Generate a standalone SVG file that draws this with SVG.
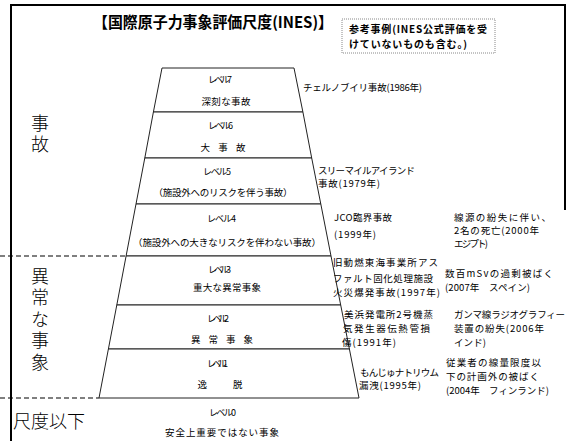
<svg xmlns="http://www.w3.org/2000/svg" width="569" height="441" viewBox="0 0 569 441">
<style>
  text { font-family: "Noto Sans CJK JP", "Noto Sans", sans-serif; fill: #000; }
  .band { fill: #fff; stroke: #222; stroke-width: 1; }
  .lbl { font-size: 9px; }
  .desc { font-size: 9.5px; text-anchor: middle; }
  .ex { font-size: 9.5px; }
  .big { font-size: 18px; font-weight: 300; }
  .vert { writing-mode: vertical-rl; letter-spacing: 3.5px; }
  .sep { stroke: #000; stroke-width: 1.2; stroke-dasharray: 5 3; fill: none; }
  .frame { stroke: #000; stroke-width: 2; fill: none; }
</style>
<rect width="569" height="441" fill="#fff"/>
<g id="frame">
  <path class="frame" d="M11,441 V5 H565 V210"/>
</g>
<g id="title">
  <text x="93" y="28" font-size="15.5" font-weight="bold" textLength="240" lengthAdjust="spacingAndGlyphs">【国際原子力事象評価尺度(INES)】</text>
</g>
<g id="note">
  <rect x="342" y="19" width="153" height="34" fill="#fff" stroke="#888" stroke-width="1" stroke-dasharray="1 1"/>
  <text x="349" y="33" font-size="10" font-weight="bold" textLength="138">参考事例(INES公式評価を受</text>
  <text x="349" y="48" font-size="10" font-weight="bold" textLength="118">けていないものも含む。)</text>
</g>
<g id="separators">
  <line class="sep" x1="0" y1="256" x2="126" y2="256"/>
  <line class="sep" x1="0" y1="398" x2="99" y2="398"/>
</g>
<g id="category-labels">
  <text class="big vert" x="40" y="114">事故</text>
  <text class="big vert" x="40" y="267">異常な事象</text>
  <text class="big" x="13" y="428" textLength="72">尺度以下</text>
</g>
<g id="level7">
  <polygon class="band" points="162,68 294,68 302.9,112 153.4,112"/>
  <text class="lbl" x="208" y="83" textLength="24">レベル7</text>
  <text class="desc" x="226" y="105" textLength="49">深刻な事故</text>
</g>
<g id="level6">
  <polygon class="band" points="153.4,112 302.9,112 311.7,158 144.8,158"/>
  <text class="lbl" x="208" y="129" textLength="25">レベル6</text>
  <text class="desc" x="223" y="151" textLength="45">大 事 故</text>
</g>
<g id="level5">
  <polygon class="band" points="144.8,158 311.7,158 320.8,204 136,204"/>
  <text class="lbl" x="203" y="175" textLength="28">レベル5</text>
  <text class="desc" x="223" y="196" textLength="139">（施設外へのリスクを伴う事故）</text>
</g>
<g id="level4">
  <polygon class="band" points="136,204 320.8,204 331,256 126.1,256"/>
  <text class="lbl" x="207" y="222" textLength="29">レベル4</text>
  <text class="desc" x="227" y="246" textLength="188">（施設外への大きなリスクを伴わない事故）</text>
</g>
<g id="level3">
  <polygon class="band" points="126.1,256 331,256 340.7,305 116.8,305"/>
  <text class="lbl" x="208" y="273" textLength="23">レベル3</text>
  <text class="desc" x="227" y="291" textLength="68">重大な異常事象</text>
</g>
<g id="level2">
  <polygon class="band" points="116.8,305 340.7,305 349.4,349 108.4,349"/>
  <text class="lbl" x="207" y="322" textLength="22">レベル2</text>
  <text class="desc" x="222" y="343" textLength="62">異 常 事 象</text>
</g>
<g id="level1">
  <polygon class="band" points="108.4,349 349.4,349 359,398 99,398"/>
  <text class="lbl" x="207" y="367" textLength="21">レベル1</text>
  <text class="desc" x="220" y="388" textLength="45">逸　　脱</text>
</g>
<g id="level0">
  <text class="lbl" x="209" y="416" textLength="27">レベル0</text>
  <text class="desc" x="222" y="436" textLength="114">安全上重要ではない事象</text>
</g>
<g id="examples">
  <text class="ex" x="303" y="91" textLength="119">チェルノブイリ事故(1986年)</text>
  <text class="ex" x="318" y="174" textLength="97">スリーマイルアイランド</text>
  <text class="ex" x="318" y="187" textLength="62">事故(1979年)</text>
  <text class="ex" x="334" y="221" textLength="58">JCO臨界事故</text>
  <text class="ex" x="334" y="238" textLength="42">(1999年)</text>
  <text class="ex" x="454" y="221" textLength="97">線源の紛失に伴い、</text>
  <text class="ex" x="454" y="234" textLength="85">2名の死亡(2000年</text>
  <text class="ex" x="454" y="247" textLength="34">エジプト)</text>
  <text class="ex" x="333" y="266" textLength="105">旧動燃東海事業所アス</text>
  <text class="ex" x="333" y="282" textLength="100">ファルト固化処理施設</text>
  <text class="ex" x="333" y="296" textLength="107">火災爆発事故(1997年)</text>
  <text class="ex" x="445" y="277" textLength="108">数百mSvの過剰被ばく</text>
  <text class="ex" x="445" y="291" textLength="85">(2007年　スペイン)</text>
  <text class="ex" x="344" y="318" textLength="89">美浜発電所2号機蒸</text>
  <text class="ex" x="343" y="332" textLength="87">気発生器伝熱管損</text>
  <text class="ex" x="342" y="346" textLength="54">傷(1991年)</text>
  <text class="ex" x="454" y="318" textLength="111">ガンマ線ラジオグラフィー</text>
  <text class="ex" x="454" y="332" textLength="90">装置の紛失(2006年</text>
  <text class="ex" x="454" y="346" textLength="32">インド)</text>
  <text class="ex" x="360" y="376" textLength="79">もんじゅナトリウム</text>
  <text class="ex" x="359" y="389" textLength="62">漏洩(1995年)</text>
  <text class="ex" x="446" y="366" textLength="95">従業者の線量限度以</text>
  <text class="ex" x="446" y="380" textLength="93">下の計画外の被ばく</text>
  <text class="ex" x="446" y="394" textLength="103">(2004年　フィンランド)</text>
</g>
</svg>
